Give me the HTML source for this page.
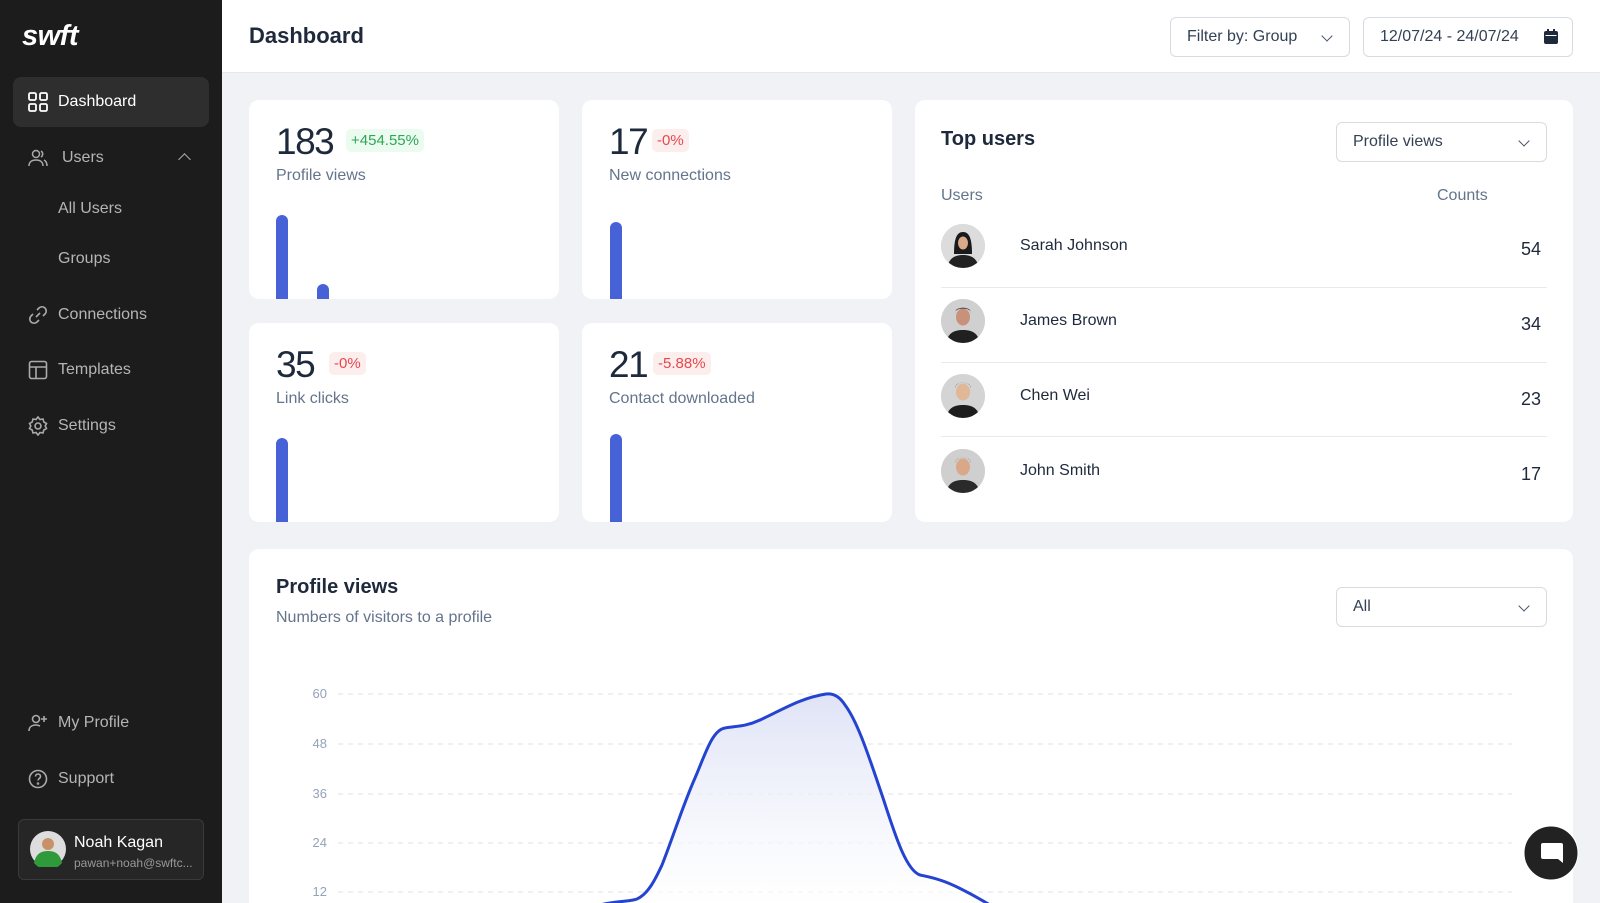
<!DOCTYPE html>
<html style="width:1600px;height:903px;overflow:hidden"><head><meta charset="utf-8"><style>
*{box-sizing:border-box;margin:0;padding:0}
body{width:1600px;height:903px;overflow:hidden;background:#f1f2f6;font-family:"Liberation Sans",sans-serif;position:relative;color:#1e293b}
.abs{position:absolute}
#side{left:0;top:0;width:222px;height:903px;background:#1c1c1c}
.nav{position:absolute;left:58px;color:#b5b5b5;font-size:16px;transform:translateY(-50%)}
.ic{position:absolute;left:28px;width:20px;height:20px;transform:translateY(-50%)}
#hdr{left:222px;top:0;width:1378px;height:73px;background:#fff;border-bottom:1px solid #e7e8ee}
.btn{position:absolute;border:1px solid #d9dbe1;border-radius:6px;background:#fff;font-size:16px;color:#334155;padding-left:16px;line-height:38px}
.card{position:absolute;background:#fff;border-radius:10px}
.big{position:absolute;left:27px;top:21px;font-size:37px;color:#1e293b;letter-spacing:-1.5px}
.badge{position:absolute;top:29px;font-size:15px;padding:3px 5px;border-radius:5px}
.g{background:#ecfbf0;color:#2fa655}.r{background:#fdeeee;color:#e5484d}
.lab{position:absolute;left:27px;top:67px;font-size:16px;color:#64748b}
.bar{position:absolute;width:12px;background:#4762d6;border-radius:6px 6px 0 0}
.row{position:absolute;left:26px;width:606px;height:74px}
.av{position:absolute;left:0;top:0;width:44px;height:44px;border-radius:50%;overflow:hidden;background:#d9d9d9}
.nm{position:absolute;left:79px;top:13px;font-size:16px;color:#1e293b}
.ct{position:absolute;right:6px;top:15px;font-size:18px;color:#1e293b}
.chev{position:absolute;right:18px;top:14px;width:8px;height:8px;border-right:1.5px solid #475569;border-bottom:1.5px solid #475569;transform:rotate(45deg)}
</style></head><body>
<div id="side" class="abs">
 <div class="abs" style="left:22px;top:20px;color:#fff;font-size:29px;font-weight:bold;font-style:italic;letter-spacing:-0.5px">swft</div>
 <div class="abs" style="left:13px;top:77px;width:196px;height:50px;background:#2e2e2e;border-radius:8px"></div>
 <svg class="ic" style="top:102px" viewBox="0 0 20 20" fill="none" stroke="#fff" stroke-width="1.8"><rect x="1" y="1" width="7" height="7" rx="1.5"/><rect x="12" y="1" width="7" height="7" rx="1.5"/><rect x="1" y="12" width="7" height="7" rx="1.5"/><rect x="12" y="12" width="7" height="7" rx="1.5"/></svg>
 <div class="nav" style="top:102px;color:#fff">Dashboard</div>
 <svg class="ic" style="top:158px" viewBox="0 0 20 20" fill="none" stroke="#aaa" stroke-width="1.5"><circle cx="8" cy="6" r="3.5"/><path d="M1 18c0-4 3-6 7-6s7 2 7 6M13 3a3.5 3.5 0 010 6M16 12c2 1 3 3 3 6"/></svg>
 <div class="nav" style="top:158px;left:62px">Users</div>
 <div class="abs" style="left:180px;top:155px;width:9px;height:9px;border-left:1.8px solid #aaa;border-top:1.8px solid #aaa;transform:rotate(45deg)"></div>
 <div class="nav" style="top:209px">All Users</div>
 <div class="nav" style="top:259px">Groups</div>
 <svg class="ic" style="top:315px" viewBox="0 0 20 20" fill="none" stroke="#aaa" stroke-width="1.6"><path d="M8 12l4-4M9 5l2-2a4 4 0 016 6l-2 2M11 15l-2 2a4 4 0 01-6-6l2-2"/></svg>
 <div class="nav" style="top:315px">Connections</div>
 <svg class="ic" style="top:370px" viewBox="0 0 20 20" fill="none" stroke="#aaa" stroke-width="1.6"><rect x="1.5" y="1.5" width="17" height="17" rx="2"/><path d="M1.5 7h17M8 7v11.5"/></svg>
 <div class="nav" style="top:370px">Templates</div>
 <svg class="ic" style="top:426px" viewBox="0 0 20 20" fill="none" stroke="#aaa" stroke-width="1.6"><circle cx="10" cy="10" r="3"/><path d="M10 1l2 2.5 3-.5.8 3 2.7 1.5-1.3 2.5 1.3 2.5-2.7 1.5-.8 3-3-.5-2 2.5-2-2.5-3 .5-.8-3L1.5 12.5 2.8 10 1.5 7.5 4.2 6 5 3l3 .5z"/></svg>
 <div class="nav" style="top:426px">Settings</div>
 <svg class="ic" style="top:723px" viewBox="0 0 20 20" fill="none" stroke="#aaa" stroke-width="1.6"><circle cx="8" cy="6" r="3.5"/><path d="M1 18c0-4 3-6 7-6 2 0 3 .5 4 1M16 3v6M13 6h6"/></svg>
 <div class="nav" style="top:723px">My Profile</div>
 <svg class="ic" style="top:779px" viewBox="0 0 20 20" fill="none" stroke="#aaa" stroke-width="1.6"><circle cx="10" cy="10" r="8.5"/><path d="M7.5 7.5a2.5 2.5 0 115 0c0 2-2.5 2-2.5 4"/><circle cx="10" cy="14.5" r=".5"/></svg>
 <div class="nav" style="top:779px">Support</div>
 <div class="abs" style="left:18px;top:819px;width:186px;height:61px;background:#262626;border:1px solid #3a3a3a;border-radius:6px">
  <svg class="abs" style="left:11px;top:11px" width="36" height="36" viewBox="0 0 36 36"><circle cx="18" cy="18" r="18" fill="#ddd"/><circle cx="18" cy="13" r="6" fill="#c8916a"/><path d="M4 32c2-10 8-12 14-12s12 2 14 12a18 18 0 01-28 0z" fill="#2f9a3a"/></svg>
  <div class="abs" style="left:55px;top:14px;color:#fff;font-size:16px">Noah Kagan</div>
  <div class="abs" style="left:55px;top:36px;color:#999;font-size:12px">pawan+noah@swftc...</div>
 </div>
</div>
<div id="hdr" class="abs">
 <div class="abs" style="left:27px;top:23px;font-size:22px;font-weight:bold;color:#1e293b">Dashboard</div>
</div>
<div class="btn" style="left:1170px;top:17px;width:180px;height:40px">Filter by: Group<div class="chev"></div></div>
<div class="btn" style="left:1363px;top:17px;width:210px;height:40px">12/07/24 - 24/07/24
 <svg class="abs" style="right:14px;top:11px" width="14" height="15" viewBox="0 0 14 15"><rect x="0" y="2" width="14" height="13" rx="2" fill="#1e293b"/><rect x="3" y="0" width="2" height="4" fill="#1e293b"/><rect x="9" y="0" width="2" height="4" fill="#1e293b"/><rect x="1.5" y="6" width="11" height="1" fill="#fff"/></svg></div>

<div class="card" style="left:249px;top:100px;width:310px;height:199px;overflow:hidden">
 <div class="big">183</div><div class="badge g" style="left:97px">+454.55%</div>
 <div class="lab">Profile views</div>
 <div class="bar" style="left:27px;top:115px;height:90px"></div>
 <div class="bar" style="left:68px;top:184px;height:20px"></div>
</div>
<div class="card" style="left:582px;top:100px;width:310px;height:199px;overflow:hidden">
 <div class="big">17</div><div class="badge r" style="left:70px">-0%</div>
 <div class="lab">New connections</div>
 <div class="bar" style="left:28px;top:122px;height:80px"></div>
</div>
<div class="card" style="left:249px;top:323px;width:310px;height:199px;overflow:hidden">
 <div class="big">35</div><div class="badge r" style="left:80px">-0%</div>
 <div class="lab">Link clicks</div>
 <div class="bar" style="left:27px;top:115px;height:90px"></div>
</div>
<div class="card" style="left:582px;top:323px;width:310px;height:199px;overflow:hidden">
 <div class="big">21</div><div class="badge r" style="left:71px">-5.88%</div>
 <div class="lab">Contact downloaded</div>
 <div class="bar" style="left:28px;top:111px;height:92px"></div>
</div>

<div class="card" style="left:915px;top:100px;width:658px;height:422px">
 <div class="abs" style="left:26px;top:28px;font-size:20px;font-weight:bold">Top users</div>
 <div class="btn" style="left:421px;top:22px;width:211px;height:40px">Profile views<div class="chev"></div></div>
 <div class="abs" style="left:26px;top:87px;font-size:16px;color:#64748b">Users</div>
 <div class="abs" style="left:522px;top:87px;font-size:16px;color:#64748b">Counts</div>
 <div class="row" style="top:124px"><div class="av"><svg width="44" height="44"><rect width="44" height="44" fill="#dcdcdc"/><path d="M13 30c0-16 3-22 9-22s9 6 9 22z" fill="#1a1a1a"/><ellipse cx="22" cy="19" rx="5" ry="6.5" fill="#d9a98a"/><path d="M6 44c2-10 8-13 16-13s14 3 16 13z" fill="#222"/></svg></div><div class="nm">Sarah Johnson</div><div class="ct">54</div></div>
 <div class="abs" style="left:26px;top:187px;width:606px;height:1px;background:#e8e9ee"></div>
 <div class="row" style="top:199px"><div class="av"><svg width="44" height="44"><rect width="44" height="44" fill="#d0d0d0"/><ellipse cx="22" cy="18" rx="7" ry="8.5" fill="#c8927a"/><path d="M14 14c0-6 16-6 16 0l-1-3c-3-3-11-3-14 0z" fill="#2a2a2a"/><path d="M5 44c2-10 8-13 17-13s15 3 17 13z" fill="#202020"/></svg></div><div class="nm">James Brown</div><div class="ct">34</div></div>
 <div class="abs" style="left:26px;top:262px;width:606px;height:1px;background:#e8e9ee"></div>
 <div class="row" style="top:274px"><div class="av"><svg width="44" height="44"><rect width="44" height="44" fill="#d4d4d4"/><ellipse cx="22" cy="18" rx="7" ry="8.5" fill="#e0b898"/><path d="M14 14c0-7 16-7 16 0l-1-3c-3-3-11-3-14 0z" fill="#111"/><path d="M5 44c2-10 8-13 17-13s15 3 17 13z" fill="#1d1d1d"/></svg></div><div class="nm">Chen Wei</div><div class="ct">23</div></div>
 <div class="abs" style="left:26px;top:336px;width:606px;height:1px;background:#e8e9ee"></div>
 <div class="row" style="top:349px"><div class="av"><svg width="44" height="44"><rect width="44" height="44" fill="#cfcfcf"/><ellipse cx="22" cy="18" rx="7" ry="8.5" fill="#d9a888"/><path d="M14 14c0-7 16-7 16 0l-1-3c-3-3-11-3-14 0z" fill="#4a3a2a"/><path d="M5 44c2-10 8-13 17-13s15 3 17 13z" fill="#2a2a2a"/></svg></div><div class="nm">John Smith</div><div class="ct">17</div></div>
</div>

<div class="card" style="left:249px;top:549px;width:1324px;height:354px;border-radius:10px 10px 0 0">
 <div class="abs" style="left:27px;top:27px;font-size:20px;font-weight:bold">Profile views</div>
 <div class="abs" style="left:27px;top:60px;font-size:16px;color:#64748b">Numbers of visitors to a profile</div>
 <div class="btn" style="left:1087px;top:38px;width:211px;height:40px">All<div class="chev"></div></div>
</div>
<svg class="abs" style="left:0;top:0" width="1600" height="903">
 <defs><linearGradient id="gf" x1="0" y1="0" x2="0" y2="1"><stop offset="0" stop-color="#dfe3f6"/><stop offset="1" stop-color="#fff" stop-opacity="0.6"/></linearGradient></defs>
 <g stroke="#dfe1ea" stroke-dasharray="5 5" stroke-width="1">
  <line x1="338" y1="694" x2="1512" y2="694"/><line x1="338" y1="744" x2="1512" y2="744"/><line x1="338" y1="794" x2="1512" y2="794"/><line x1="338" y1="843" x2="1512" y2="843"/><line x1="338" y1="892" x2="1512" y2="892"/>
 </g>
 <g font-family="Liberation Sans, sans-serif" font-size="13" fill="#94a3b8" text-anchor="end">
  <text x="327" y="698">60</text><text x="327" y="748">48</text><text x="327" y="798">36</text><text x="327" y="847">24</text><text x="327" y="896">12</text>
 </g>
 <path d="M600 905 C615 901 628 902 637 899 C648 894 655 880 662 865 C672 840 683 805 695 778 C705 755 712 730 725 728 C735 726 745 727 760 720 C780 711 800 698 826 694 C834 693 840 697 845 705 C858 722 870 760 882 795 C893 828 905 870 920 875 C935 878 948 880 990 905 Z" fill="url(#gf)"/>
 <path d="M600 905 C615 901 628 902 637 899 C648 894 655 880 662 865 C672 840 683 805 695 778 C705 755 712 730 725 728 C735 726 745 727 760 720 C780 711 800 698 826 694 C834 693 840 697 845 705 C858 722 870 760 882 795 C893 828 905 870 920 875 C935 878 948 880 990 905" fill="none" stroke="#2443d0" stroke-width="3"/>
 <circle cx="1551" cy="853" r="27" fill="#222" stroke="#fff" stroke-width="1"/>
 <path d="M1541 843 h20 a2 2 0 012 2 v18 l-5 -4 h-15 a2 2 0 01-2 -2 v-12 a2 2 0 012 -2z" fill="#fff"/>
</svg>
</body></html>
